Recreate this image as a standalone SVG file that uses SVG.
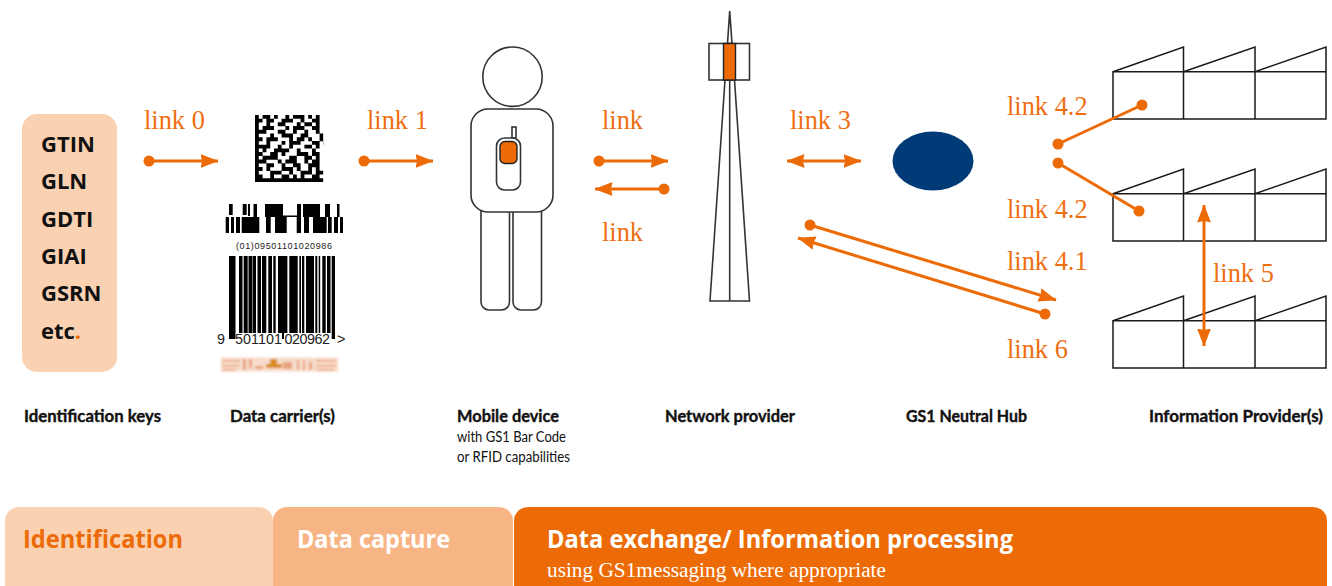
<svg xmlns="http://www.w3.org/2000/svg" width="1332" height="586" viewBox="0 0 1332 586">
<style>
.ln{fill:#fff;stroke:#333;stroke-width:1.6}
.fa{fill:none;stroke:#1a1a1a;stroke-width:1.5}
.lk{font:26.400px "Liberation Serif",serif;fill:#ee6f11}
.key{font:bold 22px "Open Sans",sans-serif;fill:#111}
.cap{font:bold 17.500px Lato,"Open Sans",sans-serif;fill:#111;stroke:#111;stroke-width:.4}
.sub{font:15.500px Lato,"Open Sans",sans-serif;fill:#111}
.band{font:bold 25px "Open Sans",sans-serif}
.c{fill:none;stroke:#ed6b06;stroke-width:3}
.d{fill:#ed6b06}
.o{fill:#ed6b06;stroke:#222;stroke-width:1.4}
.dg{font:14.300px "Liberation Sans",sans-serif;fill:#222}
</style>
<defs>
<marker id="ah" viewBox="0 0 18 14" refX="17.500" refY="7" markerWidth="18" markerHeight="14" markerUnits="userSpaceOnUse" orient="auto-start-reverse"><path d="M0 0L18 7L0 14L1.500 7z" fill="#ed6b06"/></marker>
<filter id="b1" x="-5%" y="-5%" width="110%" height="110%"><feGaussianBlur stdDeviation="0.6"/></filter>
<filter id="b2" x="-5%" y="-20%" width="110%" height="140%"><feGaussianBlur stdDeviation="0.9"/></filter>
<clipPath id="dm"><rect x="0" y="0" width="18" height="18"/></clipPath>
<g id="factory">
<path class="fa" d="M1113 71.700L1183.500 47V71.700M1183.500 71.700L1255 47V71.700M1255 71.700L1326 47V71.700"/>
<path class="fa" d="M1113 71.700H1326V119H1113ZM1183.500 71.700V119M1255 71.700V119"/>
</g>
</defs>

<g id="keys">
<rect x="22" y="114" width="95" height="258" rx="15" fill="#fad2b2"/>
<text class="key" x="41" y="152">GTIN</text>
<text class="key" x="41" y="189">GLN</text>
<text class="key" x="41" y="227">GDTI</text>
<text class="key" x="41" y="264">GIAI</text>
<text class="key" x="41" y="301">GSRN</text>
<text class="key" x="41" y="339">etc<tspan fill="#ed6b06">.</tspan></text>
<text class="cap" x="24" y="422" textLength="137" lengthAdjust="spacingAndGlyphs">Identification keys</text>
</g>

<g id="carrier">
<g filter="url(#b1)">
<g transform="translate(255 115) scale(3.8 3.72)">
<path clip-path="url(#dm)" fill="none" stroke="#000" stroke-width="1.050" d="M0 .5h1m1 0h2m1 0h1m2 0h1m1 0h3m1 0h1m1 0h1
M0 1.500h2m1 0h2m2 0h3m2 0h1m2 0h2
M0 2.500h1m2 0h1m2 0h2m3 0h1m1 0h2m1 0h1
M0 3.500h1m1 0h3m3 0h1m1 0h3m2 0h2
M0 4.500h3m3 0h2m2 0h1m2 0h1m2 0h1
M0 5.500h1m3 0h1m2 0h3m2 0h2m3 0h1
M0 6.500h2m1 0h3m3 0h1m1 0h2m1 0h1m2 0h1
M0 7.500h1m2 0h1m3 0h1m1 0h3m3 0h2m1 0h1
M0 8.500h4m2 0h1m2 0h1m3 0h2m1 0h1
M0 9.500h1m1 0h1m2 0h4m2 0h1m3 0h1
M0 10.500h2m2 0h2m1 0h1m3 0h3m1 0h2
M0 11.500h1m1 0h4m3 0h2m2 0h2m1 0h1
M0 12.500h3m3 0h1m1 0h3m2 0h1m1 0h2
M0 13.500h1m2 0h2m2 0h1m2 0h2m2 0h3
M0 14.500h2m1 0h1m3 0h3m1 0h1m2 0h1m1 0h1
M0 15.500h1m3 0h3m2 0h1m2 0h3m1 0h2
M0 16.500h2m2 0h1m2 0h2m1 0h1m1 0h1m2 0h2
M0 17.500h18"/>
</g>
</g>
<path fill="#000" d="M229 204h3.700v11h-3.700zM242.700 204h4v11h-4zM248 204h2v12h-2zM253.500 204h3.500v13h-3.500zM265 204h18v13h-18zM297 204h4v13h-4zM303 204h17v13h-17zM325 204h5v13h-5zM337 204h2.500v13h-2.500z
M225.700 217h3.300v16h-3.300zM231 217h3v16h-3zM236 217h4v16h-4zM241.700 217h17.600v16h-17.600zM266 217h4.700v16h-4.700zM275 217h11.700v16h-11.700zM296.700 217h4.300v16h-4.300zM304 217h5v16h-5zM313 217h13.700v16h-13.700zM328 217h3.700v16h-3.700zM334 217h4v16h-4zM340 217h3v16h-3z
M283 215.500h14v1.500h-14z"/>
<text x="236" y="249" font-family="Liberation Sans,sans-serif" font-size="9" fill="#222" textLength="96">(01)09501101020986</text>
<path fill="#000" d="M229 256h6.500v83h-6.500zM239 256h3.500v77h-3.500zM243.700 256h4v77h-4zM248.500 256h4v77h-4zM253 256h3v77h-3zM257.500 256h3.500v77h-3.500zM262 256h4.300v77h-4.300zM268.300 256h3.700v77h-3.700zM273.300 256h2.400v77h-2.400zM278 256h9.400v77h-9.400zM289.300 256h8.400v77h-8.400zM299.300 256h1.700v77h-1.700zM302 256h2.300v77h-2.300zM306 256h8v77h-8zM315.300 256h2v77h-2zM318.700 256h1.500v77h-1.500zM322.300 256h3.400v77h-3.400zM327 256h3.500v77h-3.500zM331.700 256h3.300v83h-3.300z"/>
<rect x="282" y="333" width="2" height="6" fill="#000"/>
<text class="dg" x="217" y="343.500">9</text>
<text class="dg" x="235" y="343.500" textLength="47">501101</text>
<text class="dg" x="284.500" y="343.500" textLength="45.500">020962</text>
<text class="dg" x="337" y="343.500">&gt;</text>
<g filter="url(#b2)">
<rect x="221" y="357.500" width="117" height="14" fill="#f7dccb"/>
<path fill="#e9a47d" d="M222 360h18v1.500h-18zM222 365h17v1.500h-17zM222 369h14v1.500h-14zM243 359h3v11h-3zM249 359h3v9h-3zM255 366h8v3h-8zM283 362h9v7h-9zM297 360h2v10h-2zM303 360h2v10h-2zM309 362h3v8h-3zM316 360h20v1.500h-20zM316 365h20v1.500h-20zM316 369h18v1.500h-18z"/>
<path fill="#d98a1a" d="M270 359h7v5h-7zM266 364h16v4h-16z"/>
</g>
<text class="cap" x="230" y="422" textLength="105" lengthAdjust="spacingAndGlyphs">Data carrier(s)</text>
</g>

<g id="mobile">
<circle class="ln" cx="512.500" cy="76.700" r="29.700"/>
<rect class="ln" x="481" y="200" width="28.500" height="110" rx="8"/>
<rect class="ln" x="513" y="200" width="28.500" height="110" rx="8"/>
<rect class="ln" x="471" y="109" width="82" height="103" rx="17"/>
<rect class="ln" x="512" y="127" width="4" height="11"/>
<rect class="ln" x="496.500" y="138" width="24" height="52" rx="8"/>
<rect class="o" x="500" y="141.500" width="17" height="22" rx="5"/>
<text class="cap" x="457" y="422" textLength="102" lengthAdjust="spacingAndGlyphs">Mobile device</text>
<text class="sub" x="457" y="442" textLength="109" lengthAdjust="spacingAndGlyphs">with GS1 Bar Code</text>
<text class="sub" x="457" y="462" textLength="113" lengthAdjust="spacingAndGlyphs">or RFID capabilities</text>
</g>

<g id="network">
<path class="ln" d="M727.500 43.500L729.700 11L732 43.500Z"/>
<path class="ln" d="M725 80L710 301H749.500L734.500 80Z"/>
<path class="ln" d="M729.700 80V301"/>
<rect class="ln" x="709" y="43.500" width="40.500" height="36.500"/>
<rect class="o" x="723.500" y="43.500" width="12" height="36.500"/>
<text class="cap" x="665" y="422" textLength="130" lengthAdjust="spacingAndGlyphs">Network provider</text>
</g>

<g id="hub">
<ellipse cx="933" cy="161" rx="40.500" ry="29.500" fill="#003b77"/>
<text class="cap" x="906" y="422" textLength="121" lengthAdjust="spacingAndGlyphs">GS1 Neutral Hub</text>
</g>

<g id="providers">
<use href="#factory"/>
<use href="#factory" y="122"/>
<use href="#factory" y="249"/>
<text class="cap" x="1149" y="422" textLength="174" lengthAdjust="spacingAndGlyphs">Information Provider(s)</text>
</g>

<g id="connectors">
<path class="c" marker-end="url(#ah)" d="M149 161H218"/>
<circle class="d" cx="149" cy="161" r="5.500"/>
<path class="c" marker-end="url(#ah)" d="M364 161H433"/>
<circle class="d" cx="364" cy="161" r="5.500"/>
<path class="c" marker-end="url(#ah)" d="M599 161H668"/>
<circle class="d" cx="599" cy="161" r="5.500"/>
<path class="c" marker-end="url(#ah)" d="M664 189H595"/>
<circle class="d" cx="664" cy="189" r="5.500"/>
<path class="c" marker-start="url(#ah)" marker-end="url(#ah)" d="M787 161H861"/>
<path class="c" marker-end="url(#ah)" d="M810 225L1056 300"/>
<circle class="d" cx="810" cy="225" r="5.500"/>
<path class="c" marker-end="url(#ah)" d="M1045 314L798 238"/>
<circle class="d" cx="1045" cy="314" r="5.500"/>
<path class="c" d="M1058 144L1142 105"/>
<circle class="d" cx="1058" cy="144" r="5.500"/>
<circle class="d" cx="1142" cy="105" r="5.500"/>
<path class="c" d="M1058 163L1139 211"/>
<circle class="d" cx="1058" cy="163" r="5.500"/>
<circle class="d" cx="1139" cy="211" r="5.500"/>
<path class="c" marker-start="url(#ah)" marker-end="url(#ah)" d="M1204 205V346"/>
</g>

<g id="labels">
<text class="lk" x="144" y="128.500">link 0</text>
<text class="lk" x="367" y="128.500">link 1</text>
<text class="lk" x="602" y="128.500">link</text>
<text class="lk" x="602" y="240.500">link</text>
<text class="lk" x="790" y="128.500">link 3</text>
<text class="lk" x="1007" y="114.500">link 4.2</text>
<text class="lk" x="1007" y="217.500">link 4.2</text>
<text class="lk" x="1007" y="269.500">link 4.1</text>
<text class="lk" x="1213" y="281.500">link 5</text>
<text class="lk" x="1007" y="357.500">link 6</text>
</g>

<g id="band-identification">
<path d="M5 586V521a14 14 0 0 1 14-14H259a14 14 0 0 1 14 14V586Z" fill="#fad2b2"/>
<text class="band" x="23" y="548" fill="#ed6b06" textLength="160" lengthAdjust="spacingAndGlyphs">Identification</text>
</g>
<g id="band-capture">
<path d="M273 586V521a14 14 0 0 1 14-14H499a14 14 0 0 1 14 14V586Z" fill="#f7b585"/>
<text class="band" x="297" y="548" fill="#fff" textLength="153" lengthAdjust="spacingAndGlyphs">Data capture</text>
</g>
<g id="band-exchange">
<path d="M514 586V521a14 14 0 0 1 14-14H1313a14 14 0 0 1 14 14V586Z" fill="#ed6b06"/>
<text class="band" x="547" y="548" fill="#fff" textLength="466" lengthAdjust="spacingAndGlyphs">Data exchange/ Information processing</text>
<text x="547" y="577" font-family="Liberation Serif,serif" font-size="20" fill="#fff" textLength="339" lengthAdjust="spacingAndGlyphs">using GS1messaging where appropriate</text>
</g>
</svg>
